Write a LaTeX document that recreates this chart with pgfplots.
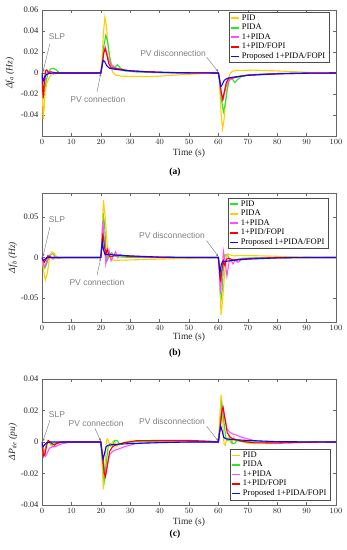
\documentclass[border=0pt]{standalone}
\usepackage{pgfplots}
\pgfplotsset{compat=1.18}
\usepackage{fontspec}
\setmainfont{Liberation Serif}
\newfontfamily\annfont{Liberation Sans}
\usetikzlibrary{arrows.meta}
\definecolor{cY}{RGB}{255,205,0}
\definecolor{cG}{RGB}{40,230,40}
\definecolor{cM}{RGB}{255,80,255}
\definecolor{cR}{RGB}{255,0,0}
\definecolor{cB}{RGB}{10,10,245}
\newcommand{\tfont}{\fontsize{8.5}{9}\selectfont}
\tikzset{
  ann/.style={font=\annfont\fontsize{8.5}{9}\selectfont, text=black!50},
  arr/.style={draw=black!55, line width=0.4pt, -{Stealth[length=3pt,width=2.2pt]}},
}
\pgfplotsset{
  legend image code/.code={\draw[#1, line width=1.6pt] (0pt,0pt)--(8pt,0pt);},
  mystyle/.style={
    scale only axis, width=294pt, xmin=0, xmax=100,
    xtick={0,10,...,100}, scaled y ticks=false, scaled x ticks=false,
    axis line style={draw=black!60}, tick style={draw=black!60, major tick length=3pt},
    tick label style={font=\tfont, text=black!85},
    label style={font=\fontsize{9.5}{10}\selectfont, text=black!85},
    xlabel={Time (s)},
    legend style={draw=black!70, font=\tfont, inner xsep=1.5pt, inner ysep=0.5pt, row sep=-1.6pt, cells={anchor=west}, fill=white},
    every axis plot/.append style={line width=1.1pt},
    clip=true,
  },
}
\begin{document}
\begin{tikzpicture}
\useasboundingbox (0,0) rectangle (347pt,550pt);
% ---------------- (a)
\begin{axis}[mystyle, at={(42pt,414pt)}, anchor=south west, height=126pt,
  ymin=-0.06, ymax=0.06, ytick={-0.04,-0.02,0,0.02,0.04,0.06},
  yticklabels={-0.04,-0.02,0,0.02,0.04,0.06},
  ylabel={\textit{Δf\textsubscript{a} (Hz)}},
  ylabel style={at={(axis description cs:-0.109,0.5)}, anchor=center},
  xlabel style={at={(axis description cs:0.5,-0.135)}, anchor=center},
  legend style={at={(0.976,0.984)}, anchor=north east}]
\addplot[cY] coordinates {(0,0)(0.15,-0.02)(0.4,-0.044)(0.7,-0.035)(1.1,-0.018)(1.7,-0.009)(2.4,-0.005)(3.2,-0.001)(4.5,0.0008)(6,0.0003)(8,0)(20,0)(20.4,0.012)(20.9,0.038)(21.4,0.053)(21.9,0.045)(22.5,0.025)(23.2,0.008)(24,0.001)(25,-0.002)(27,-0.003)(30,-0.0032)(36,-0.0035)(40,-0.003)(45,-0.002)(50,-0.0012)(55,-0.0005)(60,0)(60.4,-0.012)(60.9,-0.038)(61.4,-0.053)(61.9,-0.045)(62.5,-0.025)(63.2,-0.008)(64,0)(65,0.002)(67,0.0025)(72,0.0027)(80,0.002)(90,0.0007)(100,0.0002)};
\addlegendentry{PID}
\addplot[cG] coordinates {(0,0)(0.2,-0.012)(0.45,-0.022)(0.9,-0.015)(1.5,-0.006)(2.2,0.001)(3,0.004)(3.9,0.0045)(4.8,0.003)(5.8,0.0005)(7,-0.0005)(8.5,0.0003)(10,0.0003)(12,0)(20,0)(20.4,0.006)(21,0.025)(21.7,0.036)(22.3,0.03)(23,0.016)(23.7,0.007)(24.5,0.004)(25.6,0.008)(26.6,0.005)(28,0.002)(32,0.001)(40,0.0003)(60,0)(60.4,-0.006)(61,-0.025)(61.7,-0.037)(62.3,-0.03)(63,-0.016)(63.7,-0.007)(64.5,-0.005)(65.6,-0.009)(66.6,-0.006)(68,-0.003)(72,-0.0015)(80,-0.0005)(90,0)(100,0)};
\addlegendentry{PIDA}
\addplot[cM] coordinates {(0,0)(0.2,-0.012)(0.45,-0.021)(0.8,-0.011)(1.3,-0.002)(2,0.001)(3,0)(4,-0.001)(5.5,0)(20,0)(20.4,0.006)(21,0.02)(21.5,0.025)(22,0.02)(22.7,0.012)(23.5,0.008)(25,0.005)(27,0.003)(32,0.0015)(40,0.0005)(50,0)(60,0)(60.4,-0.006)(61,-0.02)(61.5,-0.026)(62,-0.02)(62.7,-0.012)(63.5,-0.007)(65,-0.005)(67,-0.003)(72,-0.0015)(80,-0.0005)(90,0)(100,0)};
\addlegendentry{1+PIDA}
\addplot[cR] coordinates {(0,0)(0.2,-0.015)(0.45,-0.024)(0.8,-0.008)(1.2,0.002)(1.6,0.003)(2.2,0.0005)(3,0.0012)(4,0.0005)(5,0)(20,0)(20.4,0.006)(21,0.019)(21.5,0.023)(22,0.018)(22.7,0.009)(23.5,0.005)(26,0.004)(30,0.002)(40,0.0007)(50,0.0002)(60,0)(60.4,-0.006)(61,-0.019)(61.5,-0.025)(62,-0.018)(62.7,-0.009)(63.5,-0.005)(66,-0.004)(70,-0.002)(80,-0.0007)(90,-0.0002)(100,0)};
\addlegendentry{1+PID/FOPI}
\addplot[cB] coordinates {(0,0)(0.15,-0.005)(0.35,-0.008)(0.8,-0.004)(1.5,-0.0015)(2.5,-0.0003)(4,0)(20,0)(20.3,0.005)(20.8,0.012)(21.3,0.011)(22,0.007)(23,0.0045)(25,0.0035)(28,0.0025)(35,0.0012)(45,0.0003)(60,0)(60.3,-0.005)(60.8,-0.013)(61.3,-0.011)(62,-0.007)(63,-0.005)(65,-0.004)(70,-0.0022)(80,-0.0008)(90,-0.0002)(100,0)};
\addlegendentry{Proposed 1+PIDA/FOPI}
\node[ann] at (axis cs:5.1,0.035) {SLP};
\draw[arr] (axis cs:2.7,0.028) -- (axis cs:0.3,0.001);
\node[ann] at (axis cs:19,-0.025) {PV connection};
\draw[arr] (axis cs:18.7,-0.018) -- (axis cs:20,-0.0005);
\node[ann] at (axis cs:44.6,0.019) {PV disconnection};
\draw[arr] (axis cs:56,0.015) -- (axis cs:60,0.001);
\end{axis}
\node[font=\bfseries\fontsize{9.5}{10}\selectfont] at (175pt,378pt) {(a)};
% ---------------- (b)
\begin{axis}[mystyle, at={(42pt,228pt)}, anchor=south west, height=129pt,
  ymin=-0.08, ymax=0.08, ytick={-0.05,0,0.05},
  yticklabels={-0.05,0,0.05},
  ylabel={\textit{Δf\textsubscript{b} (Hz)}},
  ylabel style={at={(axis description cs:-0.099,0.5)}, anchor=center},
  xlabel style={at={(axis description cs:0.5,-0.118)}, anchor=center},
  legend style={at={(0.973,0.961)}, anchor=north east}]
\addplot[cG] coordinates {(0,0)(0.4,-0.007)(1,-0.013)(1.6,-0.008)(2.3,0)(3.2,0.005)(3.9,0.004)(4.6,0)(5.5,-0.001)(7,0)(20,0)(20.3,0.015)(20.8,0.055)(21.3,0.04)(21.8,0.005)(22.3,-0.003)(23,0.004)(23.7,0.006)(24.5,0.002)(25.5,0.001)(30,0)(60,0)(60.3,-0.015)(60.8,-0.055)(61.3,-0.04)(61.8,-0.005)(62.3,0.003)(63,0.004)(63.7,-0.002)(64.5,-0.004)(65.5,-0.003)(68,-0.001)(75,0)(100,0)};
\addlegendentry{PID}
\addplot[cY] coordinates {(0,0)(0.4,-0.012)(1.1,-0.028)(1.8,-0.02)(2.5,-0.002)(3.4,0.007)(4.2,0.005)(5,0.001)(6,-0.001)(7.5,0)(20,0)(20.4,0.025)(20.9,0.071)(21.5,0.05)(22.2,0.015)(22.9,0.001)(23.6,-0.003)(25,-0.0035)(30,-0.003)(40,-0.002)(50,-0.001)(58,-0.0003)(60,0)(60.4,-0.025)(60.9,-0.071)(61.5,-0.05)(62.2,-0.015)(62.9,0.004)(63.6,0.004)(65,0.002)(68,0.0025)(75,0.002)(85,0.001)(95,0.0003)(100,0)};
\addlegendentry{PIDA}
\addplot[cM] coordinates {(0,0)(0.3,-0.006)(0.8,-0.012)(1.4,-0.007)(2,0.002)(2.6,0.003)(3.2,-0.001)(3.8,-0.002)(4.6,0)(6,0)(20,0)(20.3,0.015)(20.7,0.045)(21.2,0.02)(21.7,-0.008)(22.2,0.002)(22.8,0.009)(23.5,-0.004)(24.3,0.002)(25,0.007)(25.8,0)(26.6,0.004)(27.5,0.002)(30,0.001)(40,0)(60,0)(60.3,-0.015)(60.7,-0.045)(61.2,-0.02)(61.7,0.008)(62.2,-0.002)(62.9,-0.023)(63.6,-0.006)(64.2,-0.003)(65,-0.008)(65.8,-0.003)(66.6,-0.006)(68,-0.002)(72,-0.001)(80,0)(100,0)};
\addlegendentry{1+PIDA}
\addplot[cR] coordinates {(0,0)(0.3,-0.003)(0.8,-0.006)(1.4,-0.002)(2,0.002)(2.6,0.001)(3.5,0)(20,0)(20.3,0.01)(20.7,0.03)(21.2,0.015)(21.7,0.004)(22.2,0.01)(22.8,0.002)(23.5,0.001)(25,0.003)(30,0.0015)(40,0.0003)(60,0)(60.3,-0.01)(60.7,-0.03)(61.2,-0.015)(61.7,-0.004)(62.2,-0.01)(62.8,-0.002)(63.5,-0.001)(65,-0.003)(70,-0.0015)(80,-0.0003)(100,0)};
\addlegendentry{1+PID/FOPI}
\addplot[cB] coordinates {(0,0)(0.2,-0.002)(0.5,-0.004)(1,-0.002)(1.7,0)(20,0)(20.2,0.008)(20.5,0.02)(20.9,0.01)(21.4,0.004)(22,0.004)(25,0.003)(30,0.002)(40,0.0005)(50,0)(60,0)(60.2,-0.008)(60.5,-0.02)(60.9,-0.01)(61.4,-0.005)(62,-0.005)(65,-0.0035)(70,-0.002)(80,-0.0005)(90,0)(100,0)};
\addlegendentry{Proposed 1+PIDA/FOPI}
\node[ann] at (axis cs:5.1,0.047) {SLP};
\draw[arr] (axis cs:2.7,0.038) -- (axis cs:0.3,0.001);
\node[ann] at (axis cs:18.7,-0.031) {PV connection};
\draw[arr] (axis cs:18.7,-0.022) -- (axis cs:20,-0.0005);
\node[ann] at (axis cs:44.2,0.027) {PV disconnection};
\draw[arr] (axis cs:56,0.021) -- (axis cs:60,0.001);
\end{axis}
\node[font=\bfseries\fontsize{9.5}{10}\selectfont] at (175pt,197pt) {(b)};
% ---------------- (c)
\begin{axis}[mystyle, at={(42pt,45pt)}, anchor=south west, height=126pt,
  ymin=-0.04, ymax=0.04, ytick={-0.04,-0.02,0,0.02,0.04},
  yticklabels={-0.04,-0.02,0,0.02,0.04},
  ylabel={\textit{ΔP\textsubscript{tie} (pu)}},
  ylabel style={at={(axis description cs:-0.099,0.5)}, anchor=center},
  xlabel style={at={(axis description cs:0.5,-0.135)}, anchor=center},
  legend style={at={(0.98,0.04)}, anchor=south east}]
\addplot[cY] coordinates {(0,0)(0.2,-0.004)(0.5,-0.008)(0.9,-0.006)(1.4,-0.002)(2,0.0005)(2.6,-0.001)(3.2,-0.0025)(4,-0.0015)(5,-0.0005)(7,0)(20,0)(20.3,-0.01)(20.9,-0.030)(21.4,-0.015)(21.9,0.001)(22.3,0.002)(22.8,-0.001)(23.4,-0.003)(24,0)(24.6,0.001)(25.2,-0.003)(26,-0.002)(28,0)(30,0.0005)(40,0.0005)(55,0.0004)(60,0)(60.3,0.01)(60.9,0.030)(61.4,0.015)(61.9,-0.001)(62.3,-0.002)(62.8,0.001)(63.4,0.003)(64,0)(64.6,-0.001)(65.2,0.003)(66,0.001)(70,-0.0008)(80,-0.0005)(90,0)(100,0)};
\addlegendentry{PID}
\addplot[cG] coordinates {(0,0)(0.2,-0.004)(0.6,-0.008)(1.1,-0.005)(1.6,-0.001)(2.2,0.0005)(3,-0.001)(3.6,-0.002)(4.5,-0.001)(6,0)(20,0)(20.4,-0.008)(21.2,-0.024)(21.8,-0.014)(22.5,-0.003)(23.2,-0.001)(24,-0.002)(24.8,0.001)(25.5,0.001)(26.3,-0.001)(30,0)(40,0.0003)(60,0)(60.4,0.008)(61.2,0.024)(61.8,0.014)(62.5,0.003)(63.2,0.001)(64,0.002)(64.8,-0.001)(65.5,-0.001)(66.3,0.001)(70,0)(100,0)};
\addlegendentry{PIDA}
\addplot[cM] coordinates {(0,0)(0.3,-0.003)(0.8,-0.007)(1.2,-0.009)(1.8,-0.007)(2.5,-0.004)(3.5,-0.003)(4.5,-0.003)(5.5,-0.002)(7,-0.001)(10,0)(20,0)(20.4,-0.006)(21.5,-0.022)(22.2,-0.015)(23,-0.008)(24,-0.006)(25,-0.005)(26,-0.0045)(28,-0.003)(32,-0.001)(40,0)(60,0)(60.4,0.006)(61.5,0.022)(62.2,0.015)(63,0.008)(64,0.006)(65,0.005)(66,0.0045)(68,0.003)(72,0.001)(76,0)(80,-0.0004)(90,-0.0002)(100,0)};
\addlegendentry{1+PIDA}
\addplot[cR] coordinates {(0,0)(0.2,-0.005)(0.6,-0.009)(1.1,-0.007)(1.6,-0.002)(2.1,0.001)(2.7,0)(3.5,-0.001)(4.3,-0.002)(5,-0.001)(7,0)(20,0)(20.4,-0.006)(21.2,-0.02)(21.6,-0.022)(22.3,-0.014)(23,-0.006)(24,-0.003)(25,-0.002)(28,-0.0005)(32,0.0008)(40,0.001)(50,0.001)(57,0.0005)(60,0)(60.4,0.006)(61.2,0.02)(61.6,0.022)(62.3,0.014)(63,0.006)(64,0.003)(65,0.002)(68,0.0005)(72,-0.0005)(80,-0.0007)(90,-0.0002)(100,0)};
\addlegendentry{1+PID/FOPI}
\addplot[cB] coordinates {(0,0)(0.15,-0.002)(0.4,-0.003)(0.8,-0.002)(1.5,-0.0005)(3,0)(20,0)(20.3,-0.005)(20.8,-0.011)(21.3,-0.007)(21.8,-0.003)(22.5,-0.002)(25,-0.0015)(30,-0.001)(40,-0.0004)(50,0)(60,0)(60.3,0.005)(60.8,0.010)(61.3,0.007)(61.8,0.003)(62.5,0.002)(65,0.0015)(70,0.001)(80,0.0002)(100,0)};
\addlegendentry{Proposed 1+PIDA/FOPI}
\node[ann] at (axis cs:5.1,0.0176) {SLP};
\draw[arr] (axis cs:2.7,0.0138) -- (axis cs:0.3,0.0005);
\node[ann] at (axis cs:18.4,0.012) {PV connection};
\draw[arr] (axis cs:18,0.0087) -- (axis cs:20,0.0005);
\node[ann] at (axis cs:44.2,0.013) {PV disconnection};
\draw[arr] (axis cs:56,0.010) -- (axis cs:60,0.0005);
\end{axis}
\node[font=\bfseries\fontsize{9.5}{10}\selectfont] at (175pt,16pt) {(c)};
\end{tikzpicture}
\end{document}
